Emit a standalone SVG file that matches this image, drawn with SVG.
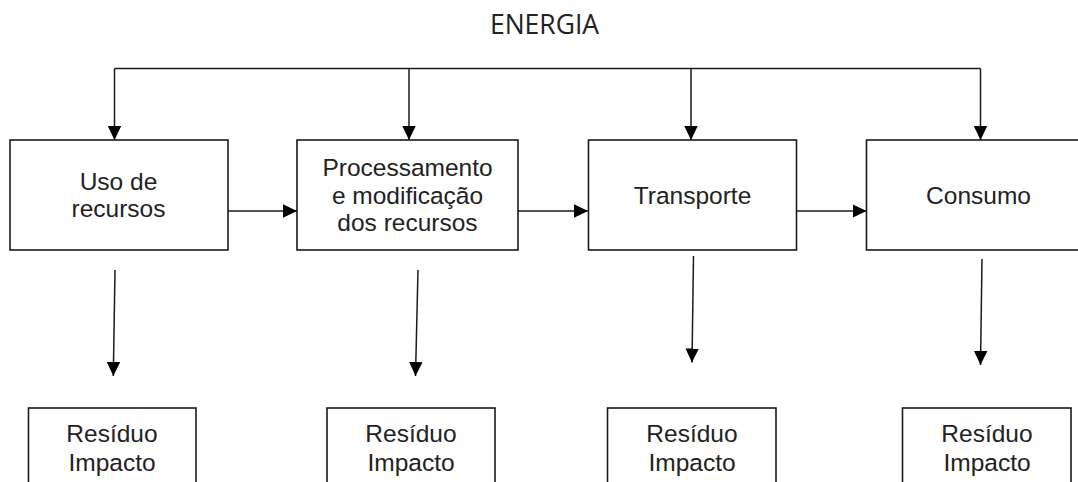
<svg xmlns="http://www.w3.org/2000/svg" width="1078" height="482" viewBox="0 0 1078 482">
<style>
.box{fill:#fff;stroke:#1a1a1a;stroke-width:1.6}
.ln{fill:none;stroke:#1a1a1a;stroke-width:1.5}
.t{font-family:"Liberation Sans",Arial,sans-serif;font-size:24.5px;fill:#222;text-anchor:middle}
.title{font-family:"Open Sans","Noto Sans",sans-serif;font-size:26.5px;fill:#222;text-anchor:middle}
</style>
<defs>
<marker id="arr" viewBox="0 0 14 14" refX="14" refY="7" markerWidth="14" markerHeight="14" orient="auto" markerUnits="userSpaceOnUse">
<path d="M0,0.3 L14,7 L0,13.7 z" fill="#000"/>
</marker>
</defs>
<rect width="1078" height="482" fill="#fff"/>
<text class="title" x="544.5" y="34.3">ENERGIA</text>
<g id="connectors">
<path class="ln" d="M114.5,68.5 H980.5"/>
<path class="ln" d="M114.5,68.5 V140" marker-end="url(#arr)"/>
<path class="ln" d="M409,68.5 V140" marker-end="url(#arr)"/>
<path class="ln" d="M691,68.5 V140" marker-end="url(#arr)"/>
<path class="ln" d="M980.5,68.5 V140" marker-end="url(#arr)"/>
<path class="ln" d="M228,211 H297" marker-end="url(#arr)"/>
<path class="ln" d="M518,211 H588" marker-end="url(#arr)"/>
<path class="ln" d="M797,211 H866.5" marker-end="url(#arr)"/>
<path class="ln" d="M115,270 L113.3,376" marker-end="url(#arr)"/>
<path class="ln" d="M418,270 L415.5,376" marker-end="url(#arr)"/>
<path class="ln" d="M693.5,256 L692,362.5" marker-end="url(#arr)"/>
<path class="ln" d="M982,259 L980.5,365" marker-end="url(#arr)"/>
</g>
<g id="uso">
<rect class="box" x="10" y="140" width="218" height="110"/>
<text class="t" x="118.5" y="190">Uso de</text>
<text class="t" x="118.5" y="217">recursos</text>
</g>
<g id="processamento">
<rect class="box" x="297" y="140" width="221" height="110"/>
<text class="t" x="407.5" y="176">Processamento</text>
<text class="t" x="407.5" y="203.5">e modificação</text>
<text class="t" x="407.5" y="231">dos recursos</text>
</g>
<g id="transporte">
<rect class="box" x="588.5" y="140" width="208" height="110"/>
<text class="t" x="692.5" y="203.5">Transporte</text>
</g>
<g id="consumo">
<rect class="box" x="866.5" y="140" width="220" height="110"/>
<text class="t" x="978.5" y="204">Consumo</text>
</g>
<g id="residuo1">
<rect class="box" x="28.5" y="408" width="167.5" height="90"/>
<text class="t" x="112" y="441.7">Resíduo</text>
<text class="t" x="112" y="471">Impacto</text>
</g>
<g id="residuo2">
<rect class="box" x="327" y="408" width="168" height="90"/>
<text class="t" x="411" y="441.7">Resíduo</text>
<text class="t" x="411" y="471">Impacto</text>
</g>
<g id="residuo3">
<rect class="box" x="607.5" y="408" width="168.5" height="90"/>
<text class="t" x="692" y="441.7">Resíduo</text>
<text class="t" x="692" y="471">Impacto</text>
</g>
<g id="residuo4">
<rect class="box" x="902.5" y="408" width="168.5" height="90"/>
<text class="t" x="987" y="441.7">Resíduo</text>
<text class="t" x="987" y="471">Impacto</text>
</g>
</svg>
